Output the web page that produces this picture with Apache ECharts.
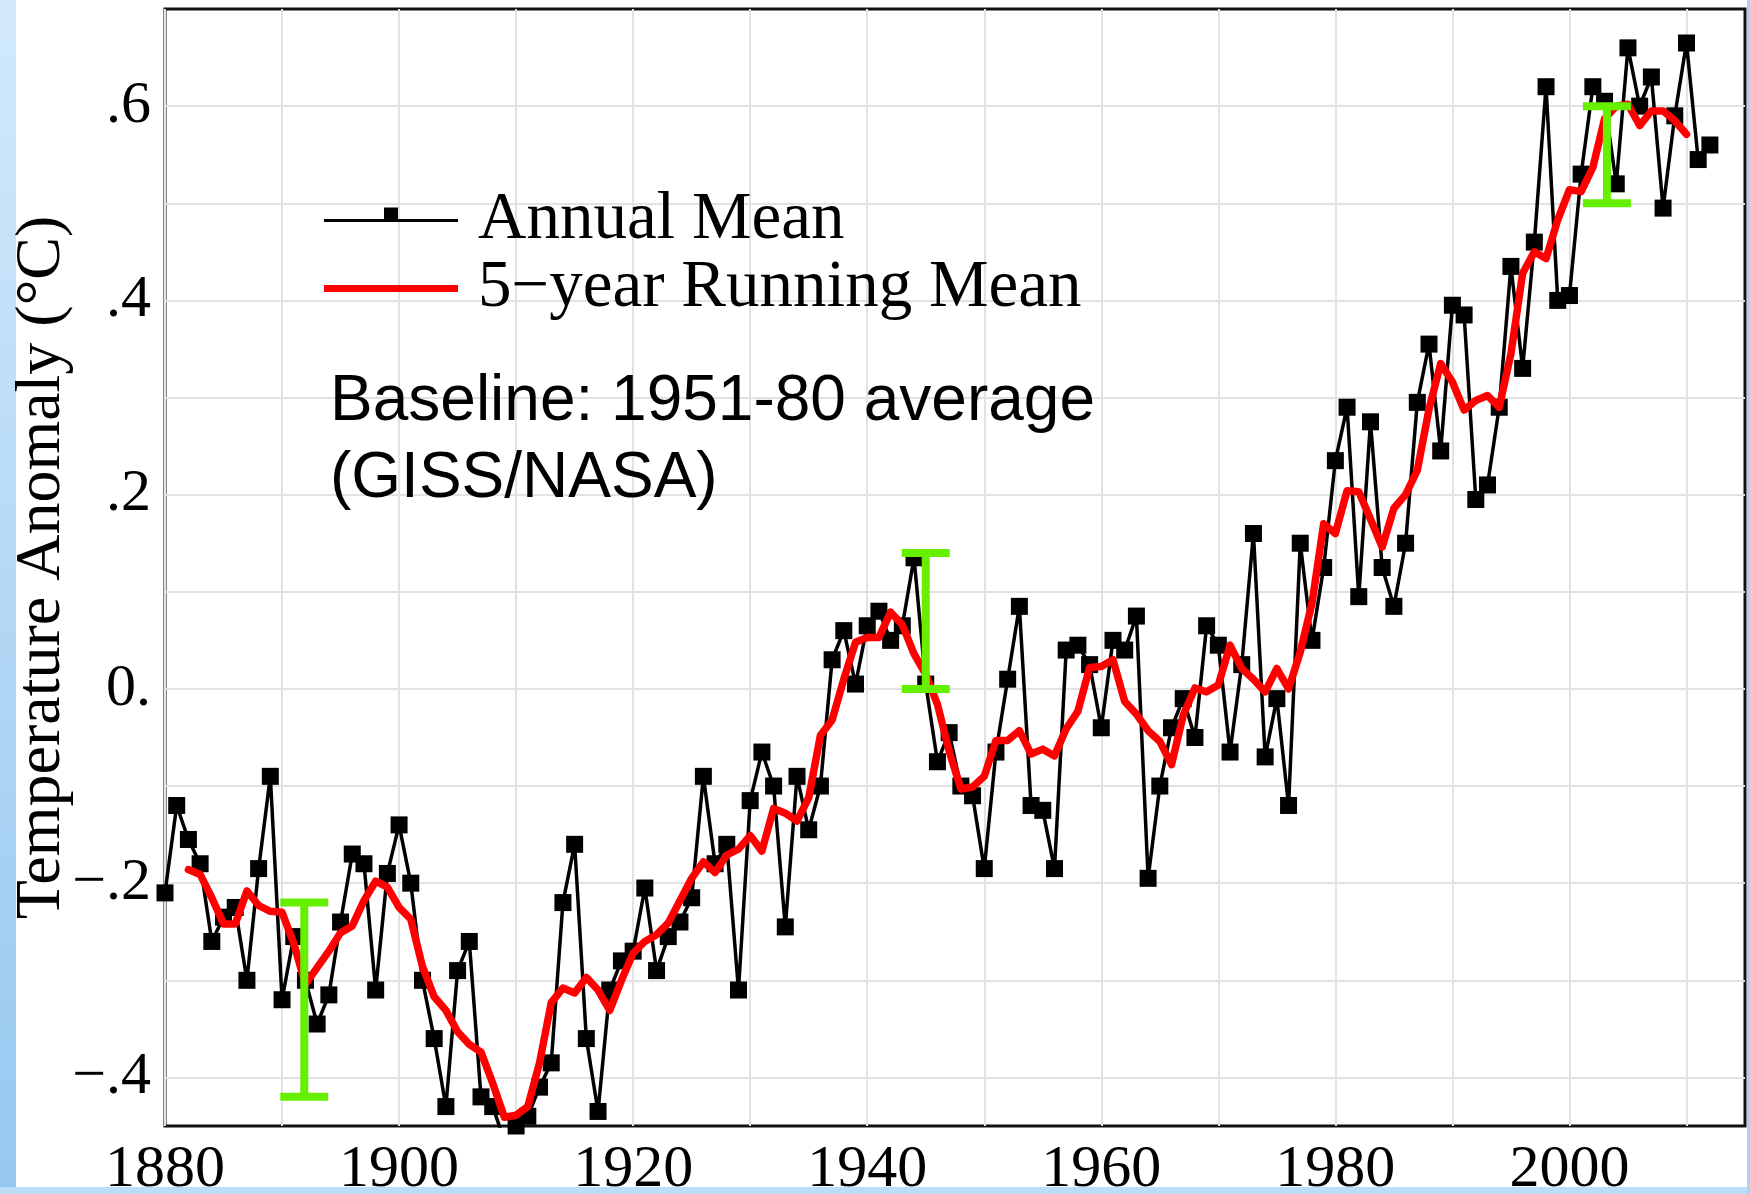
<!DOCTYPE html>
<html>
<head>
<meta charset="utf-8">
<script src="https://cdn.jsdelivr.net/npm/echarts@6/dist/echarts.min.js"></script>
<style>
html,body{margin:0;padding:0;background:#ffffff;}
#chart{width:1750px;height:1194px;}
</style>
</head>
<body>
<div id="chart"></div>
<script>
// ---------------- data ----------------
const annualYears = [
  1880,1881,1882,1883,1884,1885,1886,1887,1888,1889,
  1890,1891,1892,1893,1894,1895,1896,1897,1898,1899,
  1900,1901,1902,1903,1904,1905,1906,1907,1908,1909,
  1910,1911,1912,1913,1914,1915,1916,1917,1918,1919,
  1920,1921,1922,1923,1924,1925,1926,1927,1928,1929,
  1930,1931,1932,1933,1934,1935,1936,1937,1938,1939,
  1940,1941,1942,1943,1944,1945,1946,1947,1948,1949,
  1950,1951,1952,1953,1954,1955,1956,1957,1958,1959,
  1960,1961,1962,1963,1964,1965,1966,1967,1968,1969,
  1970,1971,1972,1973,1974,1975,1976,1977,1978,1979,
  1980,1981,1982,1983,1984,1985,1986,1987,1988,1989,
  1990,1991,1992,1993,1994,1995,1996,1997,1998,1999,
  2000,2001,2002,2003,2004,2005,2006,2007,2008,2009,
  2010,2011,2012
];
const annualMean = [
  -0.21,-0.12,-0.155,-0.18,-0.26,-0.235,-0.225,-0.30,-0.185,-0.09,
  -0.32,-0.255,-0.30,-0.345,-0.315,-0.24,-0.17,-0.18,-0.31,-0.19,
  -0.14,-0.20,-0.30,-0.36,-0.43,-0.29,-0.26,-0.42,-0.43,-0.465,
  -0.45,-0.44,-0.41,-0.385,-0.22,-0.16,-0.36,-0.435,-0.31,-0.28,
  -0.27,-0.205,-0.29,-0.255,-0.24,-0.215,-0.09,-0.18,-0.16,-0.31,
  -0.115,-0.065,-0.10,-0.245,-0.09,-0.145,-0.10,0.03,0.06,0.005,
  0.065,0.08,0.05,0.065,0.135,0.005,-0.075,-0.045,-0.10,-0.11,
  -0.185,-0.065,0.01,0.085,-0.12,-0.125,-0.185,0.04,0.045,0.025,
  -0.04,0.05,0.04,0.075,-0.195,-0.10,-0.04,-0.01,-0.05,0.065,
  0.045,-0.065,0.025,0.16,-0.07,-0.01,-0.12,0.15,0.05,0.125,
  0.235,0.29,0.095,0.275,0.125,0.085,0.15,0.295,0.355,0.245,
  0.395,0.385,0.195,0.21,0.29,0.435,0.33,0.46,0.62,0.40,
  0.405,0.53,0.62,0.605,0.52,0.66,0.60,0.63,0.495,0.59,
  0.665,0.545,0.56
];
const runningYears = [
  1882,1883,1884,1885,1886,1887,1888,1889,
  1890,1891,1892,1893,1894,1895,1896,1897,1898,1899,
  1900,1901,1902,1903,1904,1905,1906,1907,1908,1909,
  1910,1911,1912,1913,1914,1915,1916,1917,1918,1919,
  1920,1921,1922,1923,1924,1925,1926,1927,1928,1929,
  1930,1931,1932,1933,1934,1935,1936,1937,1938,1939,
  1940,1941,1942,1943,1944,1945,1946,1947,1948,1949,
  1950,1951,1952,1953,1954,1955,1956,1957,1958,1959,
  1960,1961,1962,1963,1964,1965,1966,1967,1968,1969,
  1970,1971,1972,1973,1974,1975,1976,1977,1978,1979,
  1980,1981,1982,1983,1984,1985,1986,1987,1988,1989,
  1990,1991,1992,1993,1994,1995,1996,1997,1998,1999,
  2000,2001,2002,2003,2004,2005,2006,2007,2008,2009,
  2010
];
const runningMean = [
  -0.186,-0.191,-0.215,-0.242,-0.242,-0.208,-0.223,-0.229,
  -0.230,-0.262,-0.304,-0.287,-0.270,-0.251,-0.244,-0.218,-0.198,-0.204,
  -0.225,-0.237,-0.286,-0.317,-0.331,-0.353,-0.366,-0.374,-0.406,-0.441,
  -0.439,-0.430,-0.385,-0.323,-0.308,-0.313,-0.297,-0.310,-0.331,-0.300,
  -0.272,-0.260,-0.253,-0.241,-0.218,-0.195,-0.178,-0.189,-0.171,-0.165,
  -0.151,-0.167,-0.123,-0.128,-0.136,-0.112,-0.048,-0.032,0.010,0.048,
  0.053,0.053,0.079,0.066,0.036,0.015,-0.016,-0.064,-0.103,-0.101,
  -0.090,-0.053,-0.053,-0.043,-0.067,-0.062,-0.069,-0.041,-0.023,0.022,
  0.023,0.030,-0.013,-0.026,-0.043,-0.054,-0.078,-0.027,0.001,-0.003,
  0.004,0.045,0.021,0.010,-0.003,0.021,0.000,0.038,0.088,0.170,
  0.160,0.204,0.203,0.175,0.146,0.186,0.200,0.225,0.288,0.335,
  0.316,0.287,0.297,0.302,0.290,0.345,0.428,0.450,0.443,0.483,
  0.514,0.512,0.537,0.587,0.600,0.602,0.580,0.595,0.595,0.585,
  0.571
];
const errorBarYears = [1891.9, 1945.0, 2003.2];
const errorBarLow   = [-0.42, 0.00, 0.50];
const errorBarHigh  = [-0.22, 0.14, 0.60];

const xLabelYears = [1880, 1900, 1920, 1940, 1960, 1980, 2000];
const xGridYears  = [1880, 1890, 1900, 1910, 1920, 1930, 1940, 1950, 1960, 1970, 1980, 1990, 2000, 2010];
const yLabelValues = [-0.4, -0.2, 0, 0.2, 0.4, 0.6];
const yLabelTexts  = ['\u2212.4', '\u2212.2', '0.', '.2', '.4', '.6'];
const yGridValues  = [-0.4, -0.3, -0.2, -0.1, 0, 0.1, 0.2, 0.3, 0.4, 0.5, 0.6];

const seriesNames = ['Annual Mean', '5\u2212year Running Mean'];
const yAxisTitle = 'Temperature Anomaly (\u00B0C)';
const noteText = 'Baseline: 1951-80 average\n(GISS/NASA)';

// ---------------- chart ----------------
const SERIF = '"Liberation Serif", "DejaVu Serif", serif';
const SANS = '"Liberation Sans", Arial, sans-serif';
const GREEN = '#66f000';

const chart = echarts.init(document.getElementById('chart'), null, {renderer: 'canvas'});

const annualData = annualYears.map((y, i) => [y, annualMean[i]]);
const runningData = runningYears.map((y, i) => [y, runningMean[i]]);
const errData = errorBarYears.map((y, i) => [y, errorBarLow[i], errorBarHigh[i]]);

const tiny = 'M0,0 h0.01 v0.01 h-0.01 Z M148.99,29.99 h0.01 v0.01 h-0.01 Z ';
const iconAnnual = 'path://' + tiny + 'M0,13.5 H134 V16.5 H0 Z M60,2 H74 V15 H60 Z';
const iconRunning = 'path://' + tiny + 'M0,11.5 H134 V18.5 H0 Z';

function renderErr(params, api) {
  const x = api.value(0);
  const pLo = api.coord([x, api.value(1)]);
  const pHi = api.coord([x, api.value(2)]);
  const hw = 24;
  const st = {stroke: GREEN, lineWidth: 8, lineCap: 'butt'};
  return {
    type: 'group',
    children: [
      {type: 'line', shape: {x1: pLo[0], y1: pLo[1], x2: pHi[0], y2: pHi[1]}, style: st},
      {type: 'line', shape: {x1: pHi[0] - hw, y1: pHi[1], x2: pHi[0] + hw, y2: pHi[1]}, style: st},
      {type: 'line', shape: {x1: pLo[0] - hw, y1: pLo[1], x2: pLo[0] + hw, y2: pLo[1]}, style: st}
    ]
  };
}

const option = {
  animation: false,
  backgroundColor: '#ffffff',
  grid: {
    left: 165, top: 9, right: 5, bottom: 68,
    outerBoundsMode: 'none',
    show: true, borderColor: '#111', borderWidth: 3, backgroundColor: '#ffffff',
    containLabel: false
  },
  xAxis: {
    type: 'value', min: 1880, max: 2015,
    axisLine: {show: false},
    axisTick: {show: false, customValues: xGridYears},
    splitLine: {show: true, lineStyle: {color: '#e2e2e2', width: 2}},
    axisLabel: {
      customValues: xLabelYears,
      formatter: v => String(v),
      fontFamily: SERIF, fontSize: 60, color: '#000', margin: 14
    }
  },
  yAxis: {
    type: 'value', min: -0.45, max: 0.7,
    name: yAxisTitle, nameLocation: 'middle', nameRotate: 90, nameGap: 91,
    nameMoveOverlap: false,
    nameTextStyle: {fontFamily: SERIF, fontSize: 64, color: '#000'},
    axisLine: {show: false},
    axisTick: {show: false, customValues: yGridValues},
    splitLine: {show: true, lineStyle: {color: '#e2e2e2', width: 2}},
    axisLabel: {
      customValues: yLabelValues,
      formatter: v => {
        const i = yLabelValues.findIndex(t => Math.abs(t - v) < 1e-9);
        return i >= 0 ? yLabelTexts[i] : '';
      },
      fontFamily: SERIF, fontSize: 60, color: '#000', margin: 14
    }
  },
  legend: {
    orient: 'vertical', left: 324, top: 187, padding: 0,
    itemWidth: 149, itemHeight: 30, itemGap: 1,
    symbolKeepAspect: false,
    selectedMode: false,
    textStyle: {fontFamily: SERIF, fontSize: 67, color: '#000'},
    data: [
      {name: seriesNames[0], icon: iconAnnual, itemStyle: {color: '#000', borderWidth: 0}},
      {name: seriesNames[1], icon: iconRunning, itemStyle: {color: '#ff0000', borderWidth: 0}}
    ]
  },
  graphic: [
    {type: 'rect', left: 0, top: 0, z: -10, shape: {width: 16, height: 1194},
     style: {fill: new echarts.graphic.LinearGradient(0, 0, 0, 1, [
       {offset: 0, color: '#d2e9fb'}, {offset: 1, color: '#96c8f0'}])}},
    {type: 'rect', left: 0, top: 1187, z: -10, shape: {width: 1750, height: 7},
     style: {fill: '#bddcf6'}},
    {type: 'rect', left: 1747, top: 0, z: -10, shape: {width: 3, height: 1194},
     style: {fill: '#a9d4f4'}},
    {type: 'text', left: 330, top: 364, z: 50,
     style: {text: noteText, fontFamily: SANS, fontSize: 64, lineHeight: 77, fill: '#000'}}
  ],
  series: [
    {
      name: seriesNames[0], type: 'line', data: annualData,
      symbol: 'rect', symbolSize: 17, showSymbol: true,
      lineStyle: {color: '#000', width: 3.5},
      itemStyle: {color: '#000'},
      z: 3, silent: true
    },
    {
      name: seriesNames[1], type: 'line', data: runningData,
      symbol: 'none', showSymbol: false,
      lineStyle: {color: '#ff0000', width: 7.5, join: 'round', cap: 'round'},
      itemStyle: {color: '#ff0000'},
      z: 4, silent: true
    },
    {
      name: 'error', type: 'custom', data: errData, renderItem: renderErr,
      z: 5, silent: true
    }
  ]
};
chart.setOption(option);
</script>
</body>
</html>
